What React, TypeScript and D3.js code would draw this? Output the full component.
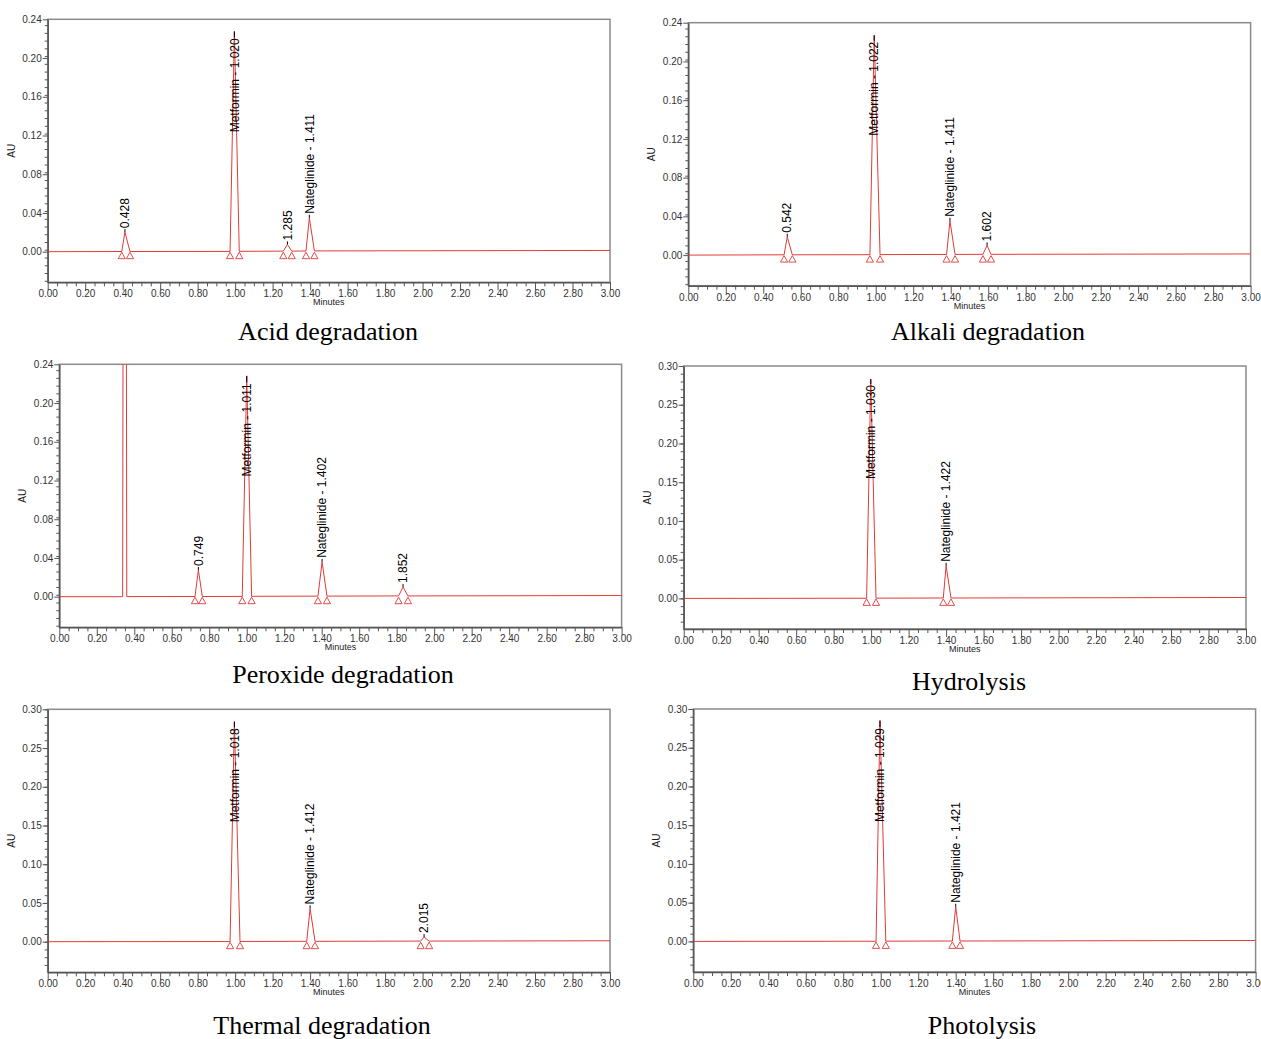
import React, { useEffect, useRef } from "react";
import * as d3 from "d3";

// tick labels
const X_TICKS = [0, 0.2, 0.4, 0.6, 0.8, 1.0, 1.2, 1.4, 1.6, 1.8, 2.0, 2.2, 2.4, 2.6, 2.8, 3.0];
const Y_TICKS_A = [0, 0.04, 0.08, 0.12, 0.16, 0.2, 0.24];
const Y_TICKS_B = [0, 0.05, 0.1, 0.15, 0.2, 0.25, 0.3];

// traces: [minutes, AU]
const acidTrace = [
  [0, 0], [0.395, 0.0002], [0.412, 0.0202], [0.439, 0.0002],
  [0.973, 0.0003], [0.996, 0.2274], [1.022, 0.0004],
  [1.257, 0.0006], [1.279, 0.0075], [1.302, 0.0006],
  [1.378, 0.0007], [1.396, 0.035], [1.423, 0.0008], [3.0, 0.0013],
];
const acidMarks = [0.395, 0.439, 0.973, 1.022, 1.257, 1.302, 1.378, 1.423];
const acidLabels = [
  { t: 0.412, v: 0.0202, text: "0.428" },
  { t: 0.996, v: 0.2274, text: "Metformin - 1.020" },
  { t: 1.279, v: 0.0075, text: "1.285" },
  { t: 1.396, v: 0.035, text: "Nateglinide - 1.411" },
];

const alkaliTrace = [
  [0, 0], [0.511, 0.0003], [0.528, 0.0189], [0.555, 0.0003],
  [0.969, 0.0004], [0.992, 0.227], [1.023, 0.0005],
  [1.378, 0.0007], [1.396, 0.0354], [1.423, 0.0007],
  [1.572, 0.0008], [1.594, 0.01], [1.615, 0.0008], [3.0, 0.0012],
];
const alkaliMarks = [0.511, 0.555, 0.969, 1.023, 1.378, 1.423, 1.572, 1.615];
const alkaliLabels = [
  { t: 0.528, v: 0.0189, text: "0.542" },
  { t: 0.992, v: 0.227, text: "Metformin - 1.022" },
  { t: 1.396, v: 0.0354, text: "Nateglinide - 1.411" },
  { t: 1.594, v: 0.01, text: "1.602" },
];

const peroxideTrace = [
  [0, 0], [0.338, 0], [0.341, 0.4], [0.357, 0.4], [0.36, 0.0001],
  [0.724, 0.0002], [0.742, 0.0276], [0.763, 0.0002],
  [0.976, 0.0003], [1.0, 0.228], [1.026, 0.0004],
  [1.38, 0.0006], [1.402, 0.036], [1.428, 0.0006],
  [1.81, 0.0008], [1.834, 0.01], [1.86, 0.0008], [3.0, 0.0012],
];
const peroxideMarks = [0.724, 0.763, 0.976, 1.026, 1.38, 1.428, 1.81, 1.86];
const peroxideLabels = [
  { t: 0.742, v: 0.0276, text: "0.749" },
  { t: 1.0, v: 0.228, text: "Metformin - 1.011" },
  { t: 1.402, v: 0.036, text: "Nateglinide - 1.402" },
  { t: 1.834, v: 0.01, text: "1.852" },
];

const hydroTrace = [
  [0, 0], [0.976, 0.0002], [0.998, 0.283], [1.026, 0.0003],
  [1.385, 0.0005], [1.4, 0.042], [1.426, 0.0005], [3.0, 0.0012],
];
const hydroMarks = [0.976, 1.026, 1.385, 1.426];
const hydroLabels = [
  { t: 0.998, v: 0.283, text: "Metformin - 1.030" },
  { t: 1.4, v: 0.042, text: "Nateglinide - 1.422" },
];

const thermalTrace = [
  [0, 0], [0.973, 0.0002], [0.996, 0.284], [1.026, 0.0003],
  [1.382, 0.0005], [1.4, 0.043], [1.426, 0.0005],
  [1.99, 0.0008], [2.008, 0.006], [2.035, 0.0008], [3.0, 0.0012],
];
const thermalMarks = [0.973, 1.026, 1.382, 1.426, 1.99, 2.035];
const thermalLabels = [
  { t: 0.996, v: 0.284, text: "Metformin - 1.018" },
  { t: 1.4, v: 0.043, text: "Nateglinide - 1.412" },
  { t: 2.008, v: 0.006, text: "2.015" },
];

const photoTrace = [
  [0, 0], [0.975, 0.0002], [0.996, 0.285], [1.027, 0.0003],
  [1.382, 0.0005], [1.4, 0.0447], [1.423, 0.0005], [3.0, 0.0012],
];
const photoMarks = [0.975, 1.027, 1.382, 1.423];
const photoLabels = [
  { t: 0.996, v: 0.285, text: "Metformin - 1.029" },
  { t: 1.4, v: 0.0447, text: "Nateglinide - 1.421" },
];

const W = 562.3;
const H = 263;
const RED = "#e03a3a";
const SANS = "'Liberation Sans', Arial, sans-serif";

const panels = [
  { id: "acid", left: 47.7, top: 19.3, yMin: -0.0316, yMax: 0.24, yTicks: Y_TICKS_A, title: "Acid degradation", tx: 328, ty: 340, trace: acidTrace, marks: acidMarks, labels: acidLabels },
  { id: "alkali", left: 688.3, top: 22.7, yMin: -0.0316, yMax: 0.24, yTicks: Y_TICKS_A, title: "Alkali degradation", tx: 988, ty: 340, trace: alkaliTrace, marks: alkaliMarks, labels: alkaliLabels },
  { id: "perox", left: 59.3, top: 364.3, yMin: -0.0316, yMax: 0.24, yTicks: Y_TICKS_A, title: "Peroxide degradation", tx: 343, ty: 683, trace: peroxideTrace, marks: peroxideMarks, labels: peroxideLabels },
  { id: "hydro", left: 683.7, top: 366, yMin: -0.0395, yMax: 0.3, yTicks: Y_TICKS_B, title: "Hydrolysis", tx: 969, ty: 690, trace: hydroTrace, marks: hydroMarks, labels: hydroLabels },
  { id: "thermal", left: 47.7, top: 709.3, yMin: -0.0395, yMax: 0.3, yTicks: Y_TICKS_B, title: "Thermal degradation", tx: 322, ty: 1034, trace: thermalTrace, marks: thermalMarks, labels: thermalLabels },
  { id: "photo", left: 693.3, top: 709, yMin: -0.0395, yMax: 0.3, yTicks: Y_TICKS_B, title: "Photolysis", tx: 982, ty: 1034, trace: photoTrace, marks: photoMarks, labels: photoLabels },
];

function Chromatogram({ p }) {
  const ref = useRef(null);

  useEffect(() => {
    const g = d3.select(ref.current);
    g.selectAll("*").remove();

    const x = d3.scaleLinear().domain([0, 3]).range([p.left, p.left + W]);
    const y = d3.scaleLinear().domain([p.yMin, p.yMax]).range([p.top + H, p.top]);
    const bottom = p.top + H;

    g.append("clipPath")
      .attr("id", "clip-" + p.id)
      .append("rect")
      .attr("x", p.left)
      .attr("y", p.top)
      .attr("width", W)
      .attr("height", H);

    // frame
    g.append("rect")
      .attr("x", p.left)
      .attr("y", p.top)
      .attr("width", W)
      .attr("height", H)
      .attr("fill", "none")
      .attr("stroke", "#8a8a8a")
      .attr("stroke-width", 1.5);

    // x axis, minor ticks first
    const minorX = d3.range(0, 3.0001, 0.05).filter((d) => Math.abs(d / 0.2 - Math.round(d / 0.2)) > 0.01);
    g.append("g")
      .attr("transform", `translate(0,${bottom})`)
      .call(d3.axisBottom(x).tickValues(minorX).tickSize(4).tickSizeOuter(0).tickFormat(() => ""))
      .call((a) => a.select(".domain").remove())
      .call((a) => a.selectAll("line").attr("stroke", "#555"));
    g.append("g")
      .attr("transform", `translate(0,${bottom})`)
      .call(d3.axisBottom(x).tickValues(X_TICKS).tickSize(8).tickSizeOuter(0).tickPadding(0).tickFormat(d3.format(".2f")))
      .call((a) => a.select(".domain").attr("stroke", "#555").attr("stroke-width", 1.5))
      .call((a) => a.selectAll("line").attr("stroke", "#555"))
      .call((a) => a.selectAll("text").attr("fill", "#333").style("font-size", "10px").style("font-family", SANS));

    // y axis
    const step = p.yTicks[1] - p.yTicks[0];
    const minorY = d3.range(-0.03, p.yMax + 1e-6, step / 5).filter((d) => d >= p.yMin);
    g.append("g")
      .attr("transform", `translate(${p.left},0)`)
      .call(d3.axisLeft(y).tickValues(minorY).tickSize(3).tickSizeOuter(0).tickFormat(() => ""))
      .call((a) => a.select(".domain").remove())
      .call((a) => a.selectAll("line").attr("stroke", "#555"));
    g.append("g")
      .attr("transform", `translate(${p.left},0)`)
      .call(d3.axisLeft(y).tickValues(p.yTicks).tickSize(5).tickSizeOuter(0).tickPadding(1).tickFormat(d3.format(".2f")))
      .call((a) => a.select(".domain").attr("stroke", "#555").attr("stroke-width", 1.5))
      .call((a) => a.selectAll("line").attr("stroke", "#555"))
      .call((a) => a.selectAll("text").attr("fill", "#333").style("font-size", "10px").style("font-family", SANS));

    g.append("text")
      .attr("transform", `translate(${p.left - 33},${p.top + H / 2}) rotate(-90)`)
      .attr("text-anchor", "middle")
      .attr("fill", "#222")
      .style("font-size", "10px")
      .style("font-family", SANS)
      .text("AU");

    g.append("text")
      .attr("x", p.left + W / 2)
      .attr("y", bottom + 23)
      .attr("text-anchor", "middle")
      .attr("fill", "#222")
      .style("font-size", "9px")
      .style("font-family", SANS)
      .text("Minutes");

    // trace
    const line = d3.line().x((d) => x(d[0])).y((d) => y(d[1]));
    g.append("path")
      .datum(p.trace)
      .attr("clip-path", `url(#clip-${p.id})`)
      .attr("fill", "none")
      .attr("stroke", RED)
      .attr("stroke-width", 1)
      .attr("stroke-linejoin", "round")
      .attr("d", line);

    // peak start / end markers
    g.selectAll(".mark")
      .data(p.marks)
      .join("path")
      .attr("class", "mark")
      .attr("transform", (d) => `translate(${x(d)},${y(0) + 0.5})`)
      .attr("d", "M0,0L3.6,6.5L-3.6,6.5Z")
      .attr("fill", "none")
      .attr("stroke", RED)
      .attr("stroke-width", 0.9);

    // peak labels
    p.labels.forEach((l) => {
      const px = x(l.t);
      const ay = y(l.v);
      const t = g.append("text")
        .attr("dy", "0.35em")
        .attr("fill", "#000")
        .style("font-size", "12px")
        .style("font-family", SANS)
        .text(l.text);
      const len = t.node().getComputedTextLength();
      let start = ay - 4;
      let shifted = false;
      if (start - len < p.top + 19) {
        start = p.top + 19 + len;
        shifted = true;
      }
      t.attr("transform", `translate(${px},${start}) rotate(-90)`);
      const l1 = shifted ? start - len - 1 : ay - 3;
      g.append("line")
        .attr("x1", px)
        .attr("x2", px)
        .attr("y1", ay)
        .attr("y2", l1)
        .attr("stroke", "#000")
        .attr("stroke-width", 1);
    });

    g.append("text")
      .attr("x", p.tx)
      .attr("y", p.ty)
      .attr("text-anchor", "middle")
      .attr("fill", "#000")
      .style("font-size", "26px")
      .style("font-family", "'Liberation Serif', 'Times New Roman', serif")
      .text(p.title);
  }, [p]);

  return <g ref={ref}></g>;
}

export default function App() {
  return (
    <svg
      width={1261}
      height={1039}
      style={{ position: "absolute", left: 0, top: 0, background: "#fff" }}
    >
      <rect width={1261} height={1039} fill="#fff" />
      {panels.map((p) => (
        <Chromatogram key={p.id} p={p} />
      ))}
    </svg>
  );
}
